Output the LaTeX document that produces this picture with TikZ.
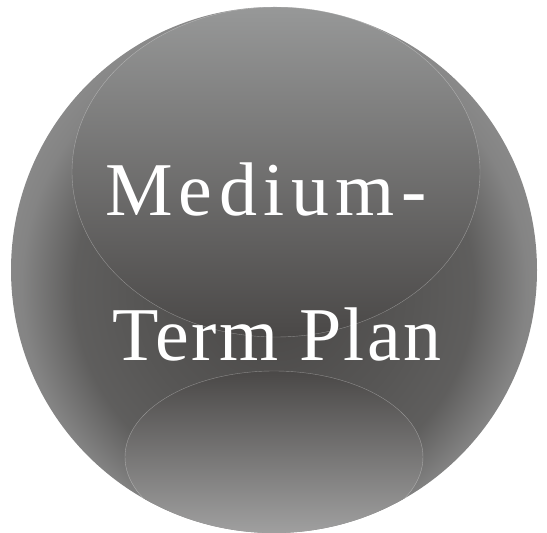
\documentclass[tikz,border=0pt]{standalone}
\usepackage{fontspec}
\setmainfont{Liberation Serif}
\usetikzlibrary{positioning,shapes,shadings}
\definecolor{pl_dark}{HTML}{4A4847}
\definecolor{pl_mid}{HTML}{575655}
\definecolor{pl_edge}{HTML}{8C8C8C}
\definecolor{pl_light}{HTML}{979898}
\definecolor{pl_pale}{HTML}{A5A5A5}
\pgfdeclareradialshading{pl_ballshade}{\pgfpoint{0bp}{-3bp}}{color(0bp)=(pl_dark); color(13bp)=(pl_mid); color(19bp)=(pl_mid!85!pl_edge); color(24bp)=(pl_edge!85!pl_mid); color(27bp)=(pl_edge); color(50bp)=(pl_edge)}
\tikzset{
	pl_base/.style={inner sep=0pt, outer sep=0pt},
	pl_ball/.style={pl_base, circle, minimum size=526pt, shading=pl_ballshade},
	pl_upper/.style={pl_base, ellipse, minimum width=408pt, minimum height=330pt, top color=pl_light, bottom color=pl_dark, draw=white, draw opacity=0.35, line width=0.4pt},
	pl_lower/.style={pl_base, ellipse, minimum width=298pt, minimum height=172pt, top color=pl_dark, bottom color=pl_pale, draw=white, draw opacity=0.35, line width=0.4pt},
	pl_text/.style={pl_base, anchor=base west, text=white, font=\fontsize{76}{80}\selectfont}
}
\begin{document}
\begin{tikzpicture}[x=1pt, y=1pt]
	\useasboundingbox (0,0) rectangle (547,533);
	\node [pl_ball] (ball) at (274,263) {};
	\node [pl_upper] (upper) at (276,361) {};
	\begin{scope}
		\clip (ball.center) circle (263);
		\node [pl_lower] (lower) at (274,76) {};
	\end{scope}

	\node [pl_text] (medium) at (105,317) {\addfontfeature{LetterSpace=8.5}Medium-};
	\node [pl_text] (plan) at (112,172) {\addfontfeature{LetterSpace=3}Term Plan};
\end{tikzpicture}
\end{document}
